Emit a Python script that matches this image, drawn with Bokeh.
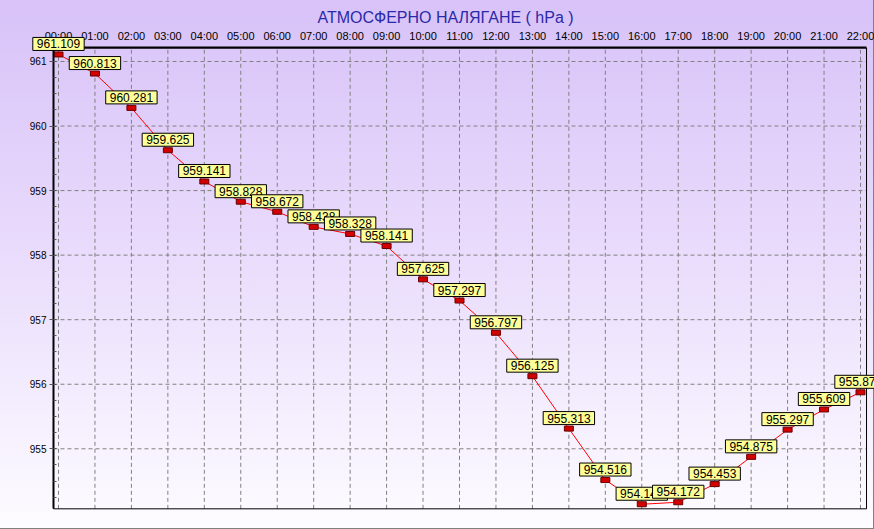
from bokeh.plotting import figure
from bokeh.models import ColumnDataSource, Label, Range1d, FixedTicker, SingleIntervalTicker
from bokeh.embed import file_html
from bokeh.resources import INLINE

# ---- data ----
hours = [0, 1, 2, 3, 4, 5, 6, 7, 8, 9, 10, 11, 12, 13, 14, 15, 16, 17, 18, 19, 20, 21, 22]
hour_labels = ["00:00", "01:00", "02:00", "03:00", "04:00", "05:00", "06:00", "07:00",
               "08:00", "09:00", "10:00", "11:00", "12:00", "13:00", "14:00", "15:00",
               "16:00", "17:00", "18:00", "19:00", "20:00", "21:00", "22:00"]
pressure = [961.109, 960.813, 960.281, 959.625, 959.141, 958.828, 958.672, 958.438,
            958.328, 958.141, 957.625, 957.297, 956.797, 956.125, 955.313, 954.516,
            954.141, 954.172, 954.453, 954.875, 955.297, 955.609, 955.875]
y_ticks = [955, 956, 957, 958, 959, 960, 961]
title_text = "АТМОСФЕРНО НАЛЯГАНЕ  ( hPa )"

FONT = "Liberation Sans"

# visible plotting box (axis extents) and the larger drawing frame around it
X_LO, X_HI = -0.137, 22.165
Y_LO, Y_HI = 954.070, 961.209
FRAME_X = (-0.9325, 22.384)
FRAME_Y = (954.044, 961.542)

src = ColumnDataSource(dict(x=hours, y=pressure))

p = figure(width=874, height=529, output_backend="svg", toolbar_location=None,
           x_range=Range1d(*FRAME_X), y_range=Range1d(*FRAME_Y),
           x_axis_location="above",
           min_border_left=24, min_border_right=0, min_border_top=26, min_border_bottom=19)

p.styles = {"background": "linear-gradient(to bottom, #d8c2f8 0%, #e8dafc 45%, #fdfcff 100%)",
            "box-shadow": "inset -1px -1px 0 #808080"}
p.background_fill_alpha = 0
p.border_fill_alpha = 0
p.outline_line_color = None
p.xgrid.visible = False
p.ygrid.visible = False

p.title.text = title_text
p.title.align = "left"
p.title.offset = 293
p.title.text_font = FONT
p.title.text_font_size = "16px"
p.title.text_font_style = "normal"
p.title.text_color = "#2a2aa8"
p.title.standoff = 2

# x axis (top), pinned to the top of the plotting box
xa = p.xaxis[0]
xa.fixed_location = Y_HI
xa.bounds = (X_LO, X_HI)
xa.ticker = FixedTicker(ticks=hours)
xa.major_label_overrides = {h: lab for h, lab in zip(hours, hour_labels)}
xa.major_label_text_font = FONT
xa.major_label_text_font_size = "11px"
xa.major_label_text_color = "black"
xa.major_label_standoff = 6
xa.major_tick_out = 0
xa.major_tick_in = 0
xa.minor_tick_out = 0
xa.minor_tick_in = 0
xa.axis_line_color = "black"
xa.axis_line_width = 2

# y axis, pinned to the left of the plotting box
ya = p.yaxis[0]
ya.fixed_location = X_LO
ya.ticker = SingleIntervalTicker(interval=1, num_minor_ticks=4)
ya.bounds = (Y_LO, Y_HI)
ya.major_label_text_font = FONT
ya.major_label_text_font_size = "10px"
ya.major_label_text_color = "black"
ya.major_label_standoff = 3
ya.major_tick_out = 4
ya.major_tick_in = 0
ya.minor_tick_in = 3
ya.minor_tick_out = 0
ya.major_tick_line_color = "#555555"
ya.minor_tick_line_color = "#555555"
ya.axis_line_color = "black"
ya.axis_line_width = 2

# dashed grid limited to the plotting box
grid_style = dict(line_color="#808080", line_dash="4 3", line_width=1, level="underlay")
p.segment(x0=hours, y0=[Y_LO] * len(hours), x1=hours, y1=[Y_HI] * len(hours), **grid_style)
p.segment(x0=[X_LO] * len(y_ticks), y0=y_ticks, x1=[X_HI] * len(y_ticks), y1=y_ticks, **grid_style)

# plotting box border
p.quad(left=[X_LO], right=[X_HI], bottom=[Y_LO], top=[Y_HI], fill_color=None,
       line_color="black", line_width=1)

p.line("x", "y", source=src, line_color="#ff0000", line_width=1)
p.rect("x", "y", source=src, width=9, height=5, width_units="screen", height_units="screen",
       fill_color="#d40000", line_color="#6a0000", line_width=1)

for h, v in zip(hours, pressure):
    p.add_layout(Label(x=h, y=v, text=f"{v:.3f}", text_align="center",
                       text_baseline="bottom", y_offset=4, text_font=FONT,
                       text_font_size="12px", text_color="black",
                       background_fill_color="#ffff99", border_line_color="black",
                       border_line_width=1, padding=dict(left=4, right=4, top=2, bottom=2)))

open("out.html", "w").write(file_html(p, INLINE))
